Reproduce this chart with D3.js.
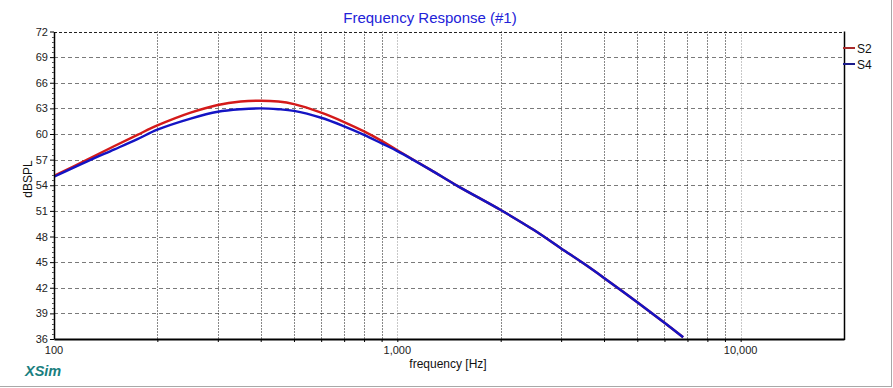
<!DOCTYPE html>
<html>
<head>
<meta charset="utf-8">
<script src="https://cdn.jsdelivr.net/npm/d3@7"></script>
<style>
    html, body { margin: 0; padding: 0; background: #fff; }
    svg { display: block; font-family: "Liberation Sans", Arial, sans-serif; }
    .tick-label { font-size: 11px; fill: #222; }
</style>
</head>
<body>
<svg id="chart" width="893" height="388"></svg>
<script>
// Frequency response, two traces
const freqs = [100, 125, 150, 175, 200, 250, 300, 350, 400, 450, 500, 600, 700, 800, 900,
               1000, 1250, 1500, 2000, 2500, 3000, 3500, 4000, 5000, 6000, 6800];
const s2 = [55.1, 57.0, 58.6, 59.9, 61.0, 62.5, 63.4, 63.8, 63.9, 63.8, 63.5, 62.5, 61.4, 60.3, 59.2,
            58.1, 55.8, 53.9, 51.1, 48.75, 46.6, 44.8, 43.15, 40.3, 37.9, 36.2];
const s4 = [55.0, 56.8, 58.2, 59.4, 60.5, 61.8, 62.6, 62.9, 63.0, 62.9, 62.7, 61.9, 60.9, 59.9, 58.9,
            58.0, 55.8, 53.9, 51.1, 48.75, 46.6, 44.8, 43.15, 40.3, 37.9, 36.2];

const seriesNames = ['S2', 'S4'];
const seriesColors = ['#d41a1a', '#1414c4'];

const yTicks = [36, 39, 42, 45, 48, 51, 54, 57, 60, 63, 66, 69, 72];
const xGrid = [200, 300, 400, 500, 600, 700, 800, 900, 1000, 2000, 3000, 4000, 5000, 6000, 7000, 8000, 9000, 10000];
const xLabels = [100, 1000, 10000];

const plot = { left: 54, right: 844, top: 31.5, bottom: 339 };

const svg = d3.select('#chart');

const x = d3.scaleLog().domain([100, 20000]).range([plot.left, plot.right]);
const y = d3.scaleLinear().domain([36, 72]).range([plot.bottom, plot.top]);

// panel border (right + bottom edges of the window frame)
svg.append('line').attr('x1', 891.5).attr('x2', 891.5).attr('y1', 0).attr('y2', 387)
    .attr('stroke', '#a8a8a8');
svg.append('line').attr('x1', 0).attr('x2', 892).attr('y1', 386.5).attr('y2', 386.5)
    .attr('stroke', '#a8a8a8');

// title
svg.append('text')
    .attr('x', 430).attr('y', 23)
    .attr('text-anchor', 'middle')
    .attr('font-size', 15)
    .attr('fill', '#2222d8')
    .text('Frequency Response (#1)');

// horizontal grid
svg.append('g').selectAll('line')
    .data(yTicks.filter(v => v > 36 && v < 72))
    .enter().append('line')
    .attr('x1', plot.left).attr('x2', plot.right)
    .attr('y1', d => Math.round(y(d)) + 0.5).attr('y2', d => Math.round(y(d)) + 0.5)
    .attr('stroke', '#7a7a7a')
    .attr('stroke-dasharray', '4,3');

// vertical grid — decades drawn lighter
svg.append('g').selectAll('line')
    .data(xGrid)
    .enter().append('line')
    .attr('x1', d => Math.round(x(d)) + 0.5).attr('x2', d => Math.round(x(d)) + 0.5)
    .attr('y1', plot.top).attr('y2', plot.bottom)
    .attr('stroke', d => (d === 1000 || d === 10000) ? '#909090' : '#111')
    .attr('stroke-dasharray', '1,2');

// top border (dashed)
svg.append('line')
    .attr('x1', plot.left).attr('x2', plot.right)
    .attr('y1', Math.round(plot.top) + 0.5).attr('y2', Math.round(plot.top) + 0.5)
    .attr('stroke', '#222').attr('stroke-dasharray', '3,2');

// right border
svg.append('line')
    .attr('x1', plot.right + 0.5).attr('x2', plot.right + 0.5)
    .attr('y1', plot.top).attr('y2', plot.bottom + 1)
    .attr('stroke', '#000').attr('stroke-width', 1.5);

// curves
svg.append('clipPath').attr('id', 'clip')
    .append('rect')
    .attr('x', plot.left).attr('y', plot.top)
    .attr('width', plot.right - plot.left).attr('height', plot.bottom - plot.top);

const line = d3.line()
    .x(d => x(d[0]))
    .y(d => y(d[1]))
    .curve(d3.curveCatmullRom.alpha(0.5));

const traces = [s2, s4];
const curves = svg.append('g').attr('clip-path', 'url(#clip)');
traces.forEach((vals, i) => {
    curves.append('path')
        .datum(freqs.map((f, k) => [f, vals[k]]))
        .attr('d', line)
        .attr('fill', 'none')
        .attr('stroke', seriesColors[i])
        .attr('stroke-width', 2.4);
});

// y axis with minor ticks
const yAxis = d3.axisLeft(y).tickValues(yTicks).tickSize(4).tickSizeOuter(0).tickPadding(2);
const yg = svg.append('g')
    .attr('transform', `translate(${plot.left},0)`)
    .call(yAxis);
yg.select('.domain').attr('stroke', '#000').attr('stroke-width', 1.5);
yg.selectAll('.tick text').attr('class', 'tick-label').attr('font-size', null).attr('font-family', null);
const minor = d3.range(36, 72.01, 0.6).filter(v => Math.abs(v / 3 - Math.round(v / 3)) > 0.01);
svg.append('g').selectAll('line')
    .data(minor)
    .enter().append('line')
    .attr('x1', plot.left - 2).attr('x2', plot.left)
    .attr('y1', d => Math.round(y(d)) + 0.5).attr('y2', d => Math.round(y(d)) + 0.5)
    .attr('stroke', '#555');

// x axis
const xAxis = d3.axisBottom(x).tickValues(xGrid).tickSize(3).tickSizeOuter(0).tickFormat('');
const xg = svg.append('g')
    .attr('transform', `translate(0,${plot.bottom})`)
    .call(xAxis);
xg.select('.domain').attr('stroke', '#000').attr('stroke-width', 2);

svg.append('g').selectAll('text')
    .data(xLabels)
    .enter().append('text')
    .attr('class', 'tick-label')
    .attr('x', d => x(d))
    .attr('y', 354)
    .attr('text-anchor', 'middle')
    .text(d3.format(','));

// axis titles
svg.append('text')
    .attr('x', 448).attr('y', 368)
    .attr('text-anchor', 'middle')
    .attr('font-size', 12)
    .attr('fill', '#111')
    .text('frequency [Hz]');

svg.append('text')
    .attr('transform', 'translate(32,179) rotate(-90)')
    .attr('text-anchor', 'middle')
    .attr('font-size', 12)
    .attr('fill', '#111')
    .text('dBSPL');

// legend
const legend = svg.append('g').attr('transform', `translate(${plot.right}, 48)`);
seriesNames.forEach((name, i) => {
    const row = legend.append('g').attr('transform', `translate(0,${i * 16})`);
    row.append('line')
        .attr('x1', -1).attr('x2', 11).attr('y1', 0).attr('y2', 0)
        .attr('stroke', i === 0 ? '#a82a2a' : '#1a1a8a').attr('stroke-width', 2);
    row.append('text')
        .attr('x', 13).attr('y', 5)
        .attr('font-size', 12)
        .attr('fill', '#111')
        .text(name);
});

// XSim mark
svg.append('text')
    .attr('x', 25).attr('y', 376)
    .attr('font-size', 14.5)
    .attr('font-weight', 'bold')
    .attr('font-style', 'italic')
    .attr('fill', '#1a7f7f')
    .text('XSim');
</script>
</body>
</html>
